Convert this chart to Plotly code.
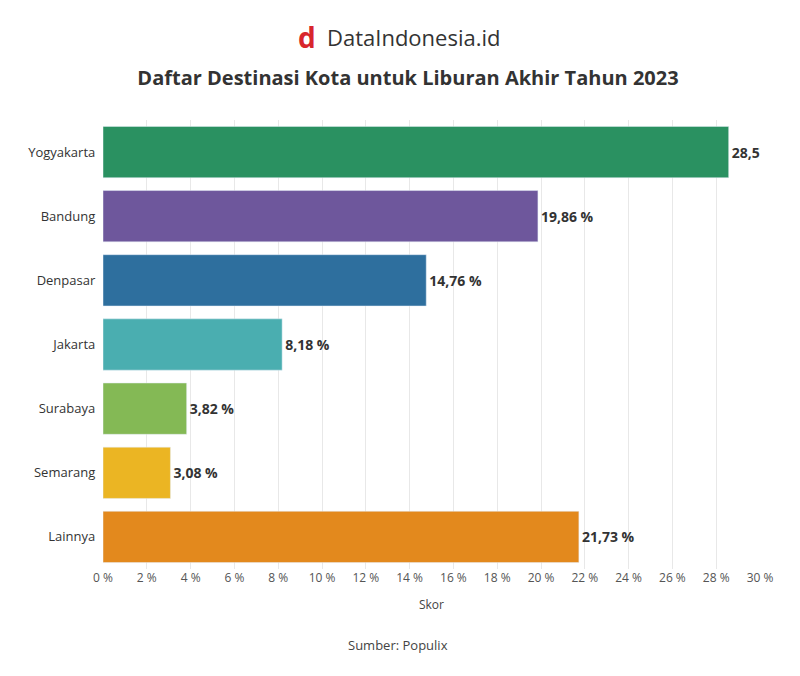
import plotly.graph_objects as go

cities = ["Yogyakarta", "Bandung", "Denpasar", "Jakarta", "Surabaya", "Semarang", "Lainnya"]
values = [28.57, 19.86, 14.76, 8.18, 3.82, 3.08, 21.73]
colors = ["#2a9161", "#6e579c", "#2e6f9e", "#4aaeb0", "#84b955", "#ebb523", "#e3891d"]
labels = [f"{v:.2f}".replace(".", ",") + " %" for v in values]

W, H = 800, 676
L, R, T, B = 95, 48, 112, 115
pw, ph = W - L - R, H - T - B

def px(x):
    return (x - 8 - L) / pw

def py(y):
    return 1 - (y - 8 - T) / ph

fig = go.Figure(go.Bar(
    y=cities, x=values, orientation="h", marker_color=colors,
    text=labels, textposition="outside", cliponaxis=True,
    textfont=dict(size=14, color="#333", family="Open Sans", weight="bold"),
    width=0.8,
))
fig.update_layout(
    width=W, height=H, plot_bgcolor="white", paper_bgcolor="white",
    margin=dict(l=L, r=R, t=T, b=B, autoexpand=False),
    font=dict(family="Open Sans", color="#444"),
    separators=", ",
    title=dict(text="<b>Daftar Destinasi Kota untuk Liburan Akhir Tahun 2023</b>",
               x=0.5, y=1 - 70 / H, yanchor="middle", xanchor="center", font=dict(size=20, color="#333")),
    xaxis=dict(range=[0, 30], dtick=2, ticksuffix=" %", showgrid=True, gridcolor="#e8e8e8",
               tickfont=dict(size=12, color="#555"), title=dict(text="Skor", font=dict(size=12)),
               zeroline=False, fixedrange=True, automargin=False),
    yaxis=dict(autorange="reversed", tickfont=dict(size=13, color="#333"), ticksuffix="  ",
               fixedrange=True, automargin=False),
    bargap=0.2,
    showlegend=False,
)
fig.layout.annotations = [
    dict(text="<b>d</b>", xref="paper", yref="paper", x=px(296), y=py(37),
         yanchor="middle", showarrow=False, font=dict(size=28, color="#d8262c")),
    dict(text="DataIndonesia.id", xref="paper", yref="paper", x=px(414), y=py(37),
         yanchor="middle", showarrow=False, font=dict(size=22, color="#333")),
    dict(text="Sumber: Populix", xref="paper", yref="paper", x=px(398), y=py(645),
         yanchor="middle", showarrow=False, font=dict(size=13, color="#444")),
]
fig.write_html("out.html")
